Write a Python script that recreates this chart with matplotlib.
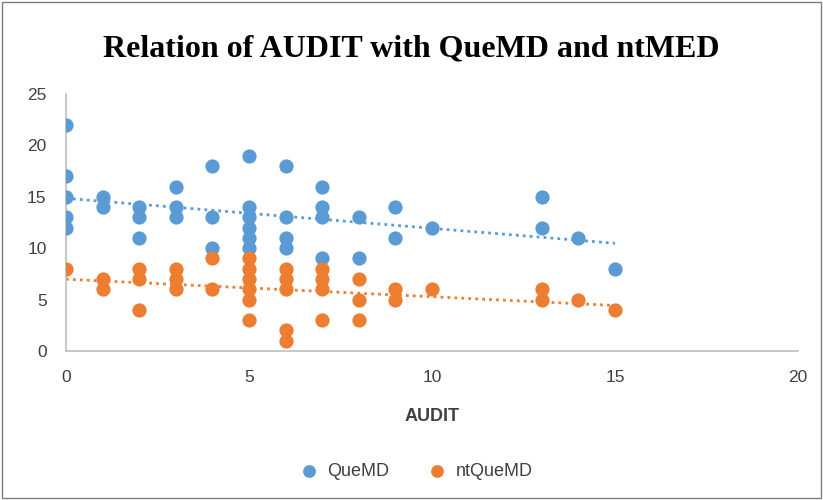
import numpy as np
import matplotlib
matplotlib.use("Agg")
import matplotlib.pyplot as plt
from matplotlib.patches import Rectangle

# AUDIT scores and the two measures
quemd_x = [0, 0, 0, 0, 0, 1, 1, 2, 2, 2, 3, 3, 3, 4, 4, 4,
           5, 5, 5, 5, 5, 5, 6, 6, 6, 6, 7, 7, 7, 7, 8, 8,
           9, 9, 10, 13, 13, 14, 15]
quemd_y = [22, 17, 15, 13, 12, 15, 14, 14, 13, 11, 16, 14, 13, 18, 13, 10,
           19, 14, 13, 12, 11, 10, 18, 13, 11, 10, 16, 14, 13, 9, 13, 9,
           14, 11, 12, 15, 12, 11, 8]

ntquemd_x = [0, 1, 1, 2, 2, 2, 3, 3, 3, 4, 4,
             5, 5, 5, 5, 5, 5, 6, 6, 6, 6, 6, 7, 7, 7, 7,
             8, 8, 8, 9, 9, 10, 13, 13, 14, 15]
ntquemd_y = [8, 7, 6, 8, 7, 4, 8, 7, 6, 9, 6,
             9, 8, 7, 6, 5, 3, 8, 7, 6, 2, 1, 8, 7, 6, 3,
             7, 5, 3, 6, 5, 6, 6, 5, 5, 4]

blue = '#5B9BD5'
orange = '#ED7D31'

plt.rcParams['font.family'] = ['Liberation Sans', 'DejaVu Sans']

fig = plt.figure(figsize=(8.23, 5.0), dpi=100)
ax = fig.add_axes([66/823, 1 - 351/500, (798-66)/823, (351-94)/500])

ax.scatter(quemd_x, quemd_y, s=105, color=blue, label='QueMD', zorder=3, linewidths=0)
ax.scatter(ntquemd_x, ntquemd_y, s=105, color=orange, label='ntQueMD', zorder=3, linewidths=0)

# linear trendlines, dotted like excel
for xs, ys, c in [(quemd_x, quemd_y, blue), (ntquemd_x, ntquemd_y, orange)]:
    k, b = np.polyfit(xs, ys, 1)
    tx = np.array([0, max(xs)])
    ax.plot(tx, k * tx + b, color=c, lw=2, linestyle=(0, (1, 1.5)), zorder=2)

ax.set_xlim(0, 20)
ax.set_ylim(0, 25)
ax.set_xticks(range(0, 21, 5))
ax.set_yticks(range(0, 26, 5))
for s in ['top', 'right']:
    ax.spines[s].set_visible(False)
for s in ['left', 'bottom']:
    ax.spines[s].set_color('#BFBFBF')
    ax.spines[s].set_linewidth(1.2)
ax.tick_params(length=0, labelsize=12.5, colors='#404040')
ax.tick_params(axis='x', pad=14)
ax.tick_params(axis='y', pad=14)

ax.set_xlabel('AUDIT', fontsize=13, fontweight='bold', color='#404040', labelpad=16)
fig.text(0.5, 1 - 49/500, 'Relation of AUDIT with QueMD and ntMED',
         ha='center', va='center', fontsize=23, fontweight='bold',
         family='Liberation Serif')

fig.legend(loc='center', bbox_to_anchor=(0.5, 1 - 471/500), ncol=2, frameon=False,
           fontsize=13, handletextpad=0.05, columnspacing=1.6, markerscale=0.9,
           labelcolor='#404040')

fig.patches.append(Rectangle((0.002, 0.004), 0.995, 0.992, transform=fig.transFigure,
                             fill=False, edgecolor='#7F7F7F', lw=1))

fig.savefig('out.png', dpi=100)
